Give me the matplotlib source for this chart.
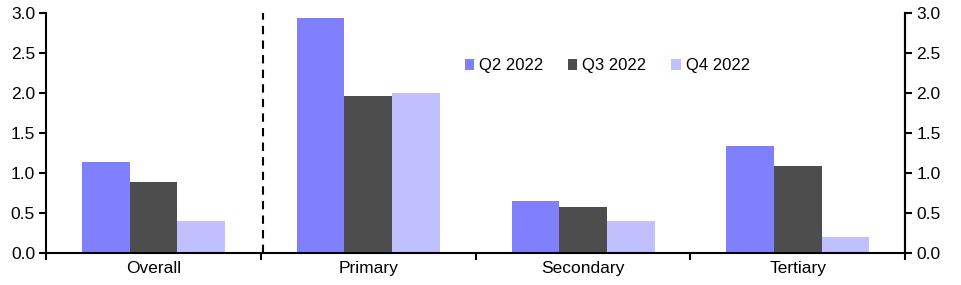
import matplotlib
matplotlib.use("Agg")
import matplotlib.pyplot as plt
import numpy as np

plt.rcParams['font.family'] = ['Liberation Sans', 'DejaVu Sans']

categories = ['Overall', 'Primary', 'Secondary', 'Tertiary']
series = ['Q2 2022', 'Q3 2022', 'Q4 2022']
q2 = [1.14, 2.94, 0.65, 1.34]
q3 = [0.89, 1.96, 0.575, 1.09]
q4 = [0.40, 2.00, 0.40, 0.20]
colors = ['#8080ff', '#4d4d4d', '#c0c0ff']


def main():
    fig = plt.figure(figsize=(9.61, 2.85), dpi=100)
    ax = fig.add_axes([0.048, 0.112, 0.894, 0.842])

    x = np.arange(len(categories))
    w = 0.222
    for i, (vals, name) in enumerate(zip([q2, q3, q4], series)):
        ax.bar(x + (i - 1) * w, vals, width=w, color=colors[i], label=name, linewidth=0)

    ax.axvline(0.51, color='black', linestyle=(0, (4, 3)), linewidth=1.5)

    ax.set_xlim(-0.5, 3.5)
    ax.set_ylim(0, 3.0)
    ax.set_yticks(np.arange(0, 3.01, 0.5))
    ax.set_yticklabels([f'{v:.1f}' for v in np.arange(0, 3.01, 0.5)])

    ax.set_xticks(np.arange(-0.5, 3.6, 1.0))
    ax.set_xticklabels([])
    ax.set_xticks(x, minor=True)
    ax.set_xticklabels(categories, minor=True)
    ax.tick_params(axis='x', which='minor', length=0, pad=6)
    ax.tick_params(axis='x', which='major', length=5, width=1.5, direction='out')
    ax.tick_params(axis='y', length=5, width=1.5, direction='out', pad=3)
    ax.tick_params(which='both', labelsize=12.5, colors='black')

    for s in ['left', 'right', 'bottom']:
        ax.spines[s].set_linewidth(1.5)
    ax.spines['top'].set_visible(False)

    ax2 = ax.twinx()
    ax2.set_ylim(0, 3.0)
    ax2.set_yticks(np.arange(0, 3.01, 0.5))
    ax2.set_yticklabels([f'{v:.1f}' for v in np.arange(0, 3.01, 0.5)])
    ax2.tick_params(axis='y', length=5, width=1.5, direction='out', labelsize=12.5, pad=3)
    ax2.spines['top'].set_visible(False)
    ax2.spines['right'].set_linewidth(1.5)
    ax2.spines['left'].set_visible(False)
    ax2.spines['bottom'].set_visible(False)

    ax.legend(loc='center', bbox_to_anchor=(0.653, 0.78), ncol=3, frameon=False,
              fontsize=12, handlelength=0.55, handleheight=0.55, handletextpad=0.3,
              columnspacing=1.5)

    fig.savefig('out.png', dpi=100)


if __name__ == "__main__":
    main()
